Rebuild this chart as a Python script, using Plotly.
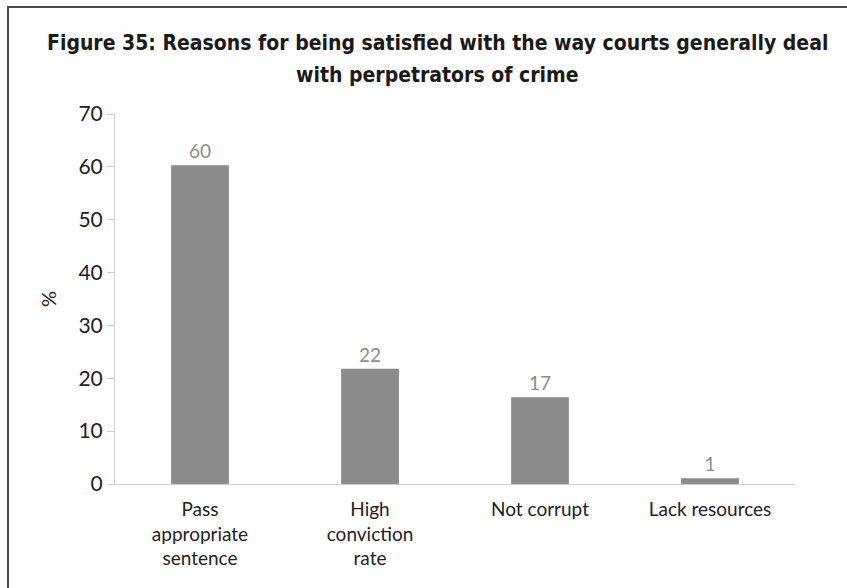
import plotly.graph_objects as go

categories = ["Pass<br>appropriate<br>sentence", "High<br>conviction<br>rate", "Not corrupt", "Lack resources"]
values = [60.3, 21.8, 16.4, 1.1]
value_labels = ["60", "22", "17", "1"]
y_ticks = [0, 10, 20, 30, 40, 50, 60, 70]
title_lines = ["Figure 35: Reasons for being satisfied with the way courts generally deal",
               "with perpetrators of crime"]

W, H = 847, 588
L, R, T, B = 115, 52, 114, 104
pw, ph = W - L - R, H - T - B

def px_x(x):
    return (x - L) / pw

def px_y(y):
    return (H - B - y) / ph

fig = go.Figure()
fig.add_trace(go.Bar(
    x=categories, y=values, text=value_labels, textposition="outside",
    marker=dict(color="#8c8c8c", line=dict(width=0)),
    textfont=dict(family="Lato, sans-serif", size=19, color="#8c8c8c"),
    width=0.34, cliponaxis=False,
))

title_font = dict(family="DejaVu Sans Condensed, sans-serif", size=21, color="#1a1a1a", weight="bold")
annotations = [
    dict(text=title_lines[0], xref="paper", yref="paper", x=px_x(437), y=px_y(43),
         xanchor="center", yanchor="middle", showarrow=False, font=title_font),
    dict(text=title_lines[1], xref="paper", yref="paper", x=px_x(437), y=px_y(75),
         xanchor="center", yanchor="middle", showarrow=False, font=title_font),
]

fig.update_layout(
    width=W, height=H,
    margin=dict(l=L, r=R, t=T, b=B),
    paper_bgcolor="white", plot_bgcolor="white",
    showlegend=False,
    annotations=annotations,
    font=dict(family="Lato, sans-serif", size=18, color="#222"),
    yaxis=dict(
        range=[0, 70], tickvals=y_ticks, showgrid=False, zeroline=False,
        showline=True, linecolor="#d0d0d0", linewidth=1,
        ticks="outside", ticklen=7, tickcolor="#d0d0d0",
        tickfont=dict(family="Lato, sans-serif", size=21, color="#222"),
        title=dict(text="%", font=dict(family="Lato, sans-serif", size=20, color="#222"), standoff=16),
    ),
    xaxis=dict(
        showgrid=False, showline=True, linecolor="#d0d0d0", linewidth=1,
        ticks="", ticklabelstandoff=8,
        tickfont=dict(family="Lato, sans-serif", size=19, color="#222"),
    ),
    shapes=[dict(
        type="rect", xref="paper", yref="paper",
        x0=px_x(8), x1=px_x(W + 20), y0=px_y(H + 20), y1=px_y(7),
        line=dict(color="#4a4a4a", width=2), fillcolor="rgba(0,0,0,0)", layer="below",
    )],
)

fig.write_html("out.html")
